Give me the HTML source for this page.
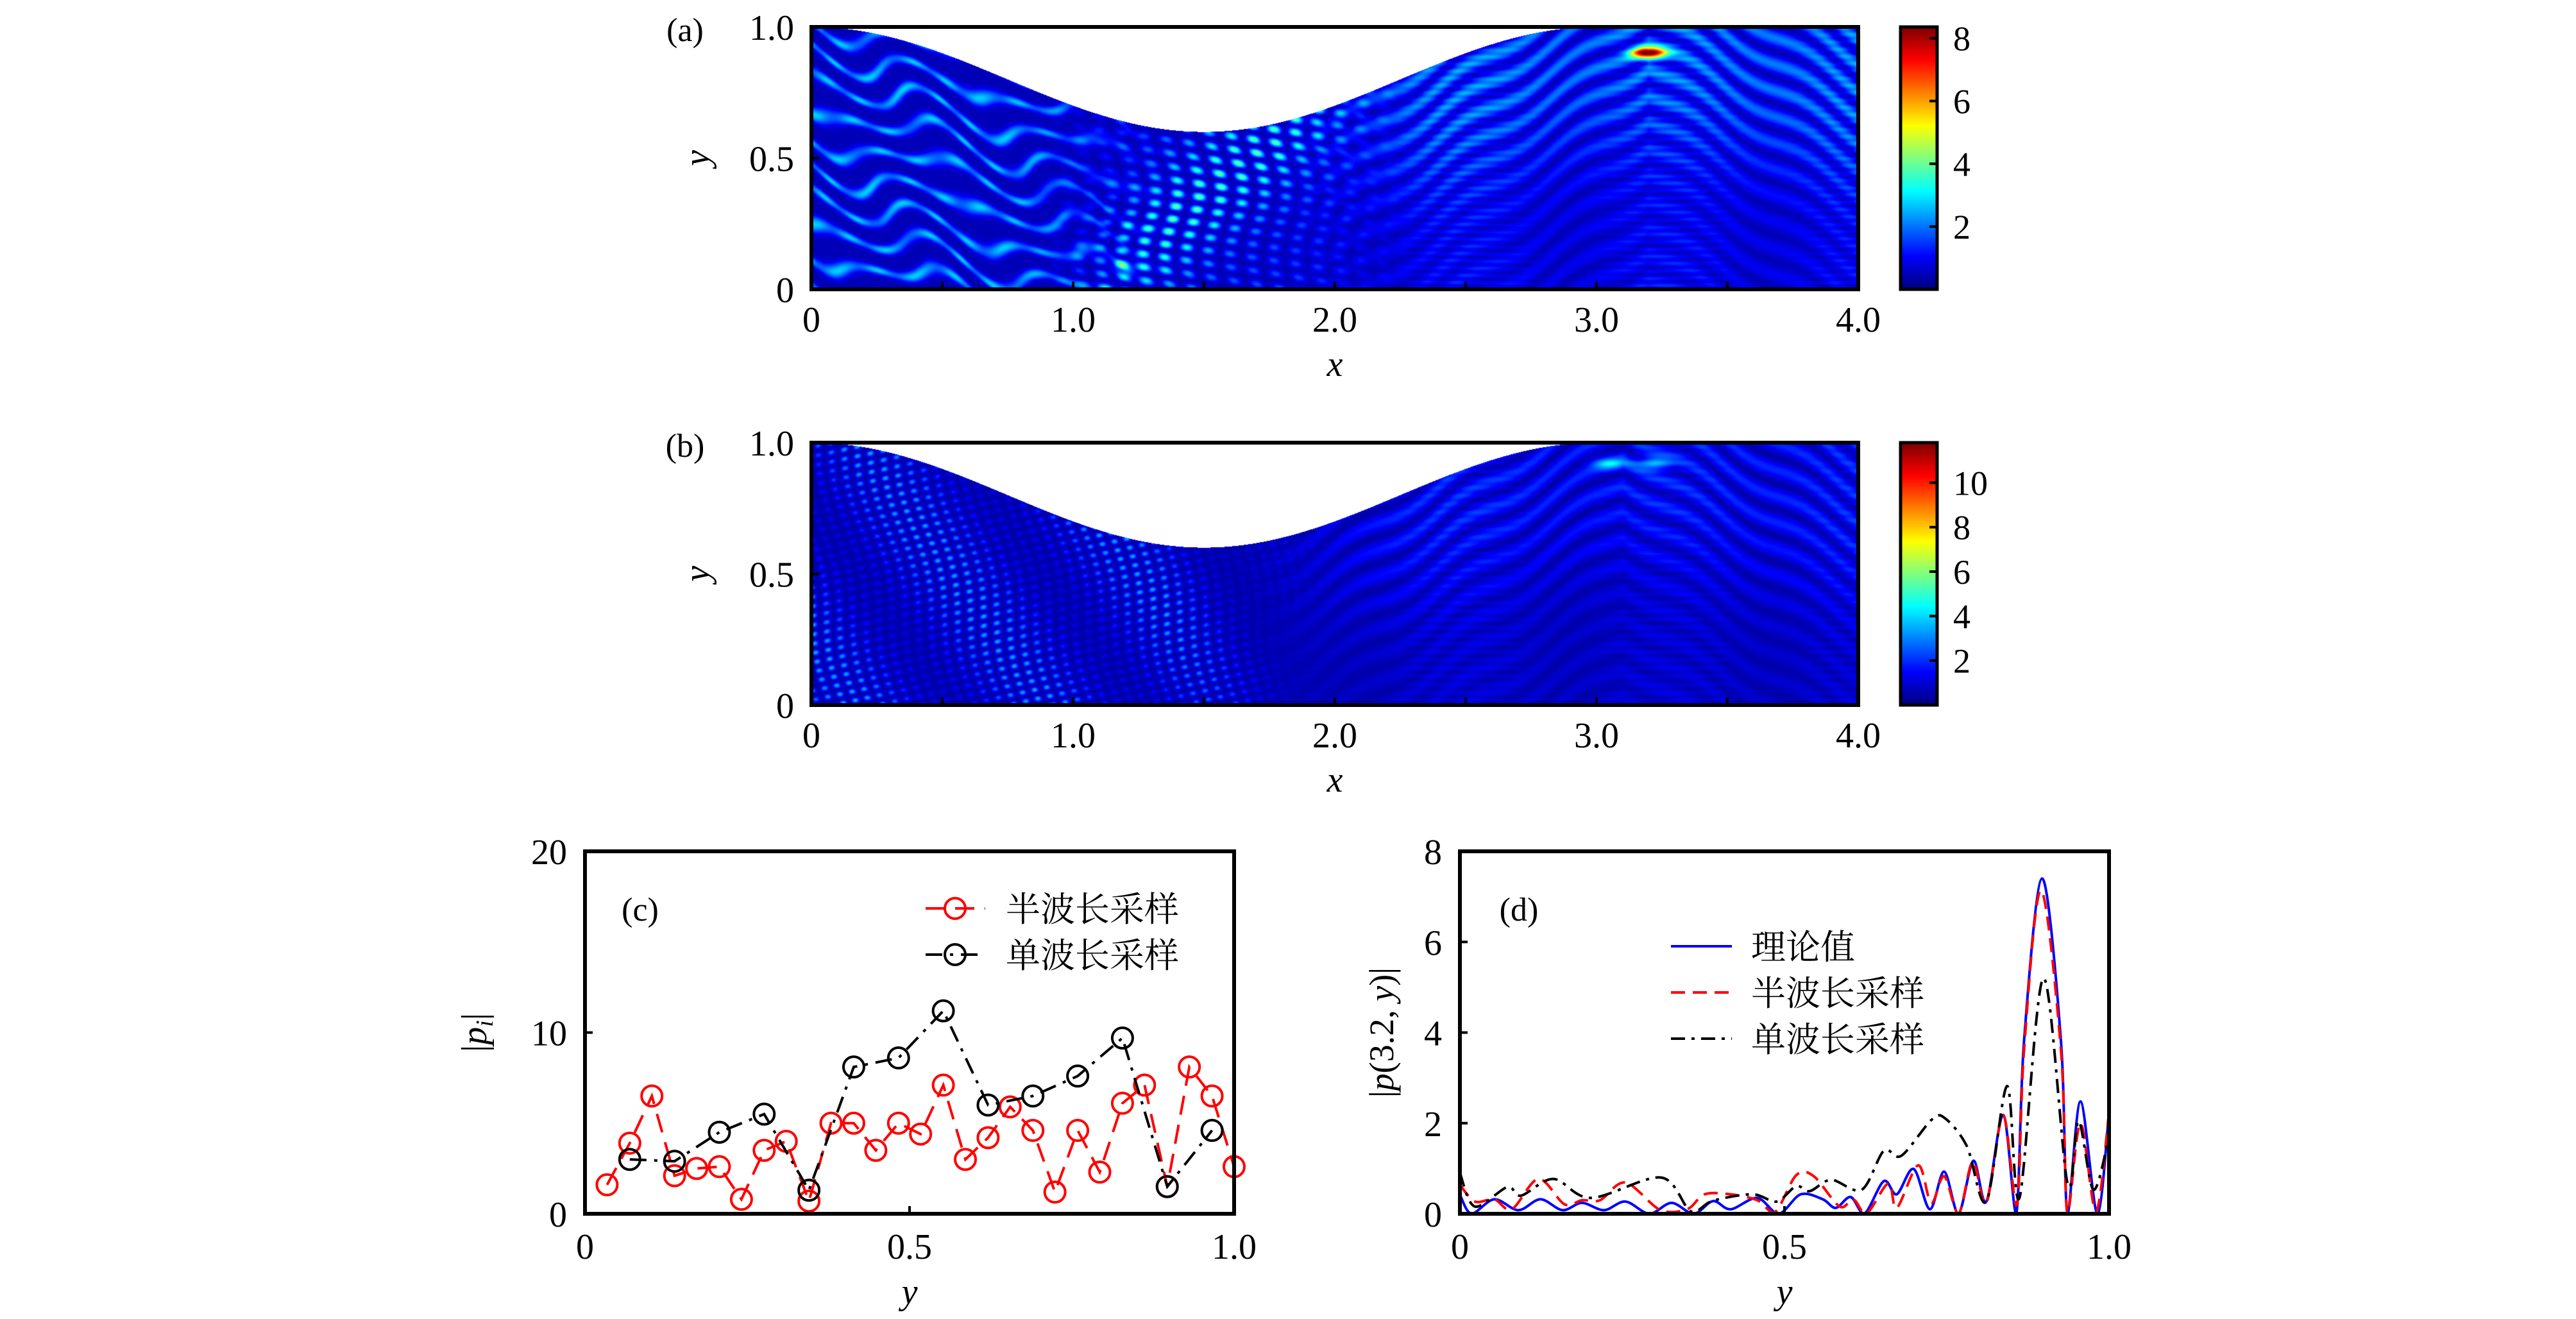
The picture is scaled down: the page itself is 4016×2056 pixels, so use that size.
<!DOCTYPE html>
<html><head><meta charset="utf-8">
<style>
html,body{margin:0;padding:0;background:#fff;}
#page{position:relative;width:4016px;height:2056px;overflow:hidden;background:#fff;font-family:"Liberation Serif","Noto Serif CJK SC",serif;}
canvas{position:absolute;}
svg{position:absolute;left:0;top:0;}
</style></head>
<body>
<div id="page">
<canvas id="hmA" width="1632" height="409" style="left:1265px;top:42px;"></canvas>
<canvas id="hmB" width="1632" height="409" style="left:1265px;top:690px;"></canvas>
<canvas id="cbA" width="57" height="409" style="left:2963px;top:42px;"></canvas>
<canvas id="cbB" width="57" height="409" style="left:2963px;top:690px;"></canvas>
<svg id="svg" width="4016" height="2056" viewBox="0 0 4016 2056" xmlns="http://www.w3.org/2000/svg"></svg>
</div>
<script>
// ---------- data ----------
const hmXTicks = [0, 1.0, 2.0, 3.0, 4.0];
const hmXTickLabels = ["0", "1.0", "2.0", "3.0", "4.0"];
const hmYTicks = [0, 0.5, 1.0];
const hmYTickLabels = ["0", "0.5", "1.0"];
const cbATicks = [2, 4, 6, 8];
const cbBTicks = [2, 4, 6, 8, 10];
const cbAMax = 8.36;
const cbBMax = 11.8;

const cRedX = [0.034,0.069,0.103,0.138,0.172,0.207,0.241,0.276,0.310,0.345,0.379,0.414,0.448,0.483,0.517,0.552,0.586,0.621,0.655,0.690,0.724,0.759,0.793,0.828,0.862,0.897,0.931,0.966,1.0];
const cRedY = [1.6,3.9,6.5,2.1,2.5,2.6,0.8,3.5,4.0,0.7,5.0,5.0,3.5,5.0,4.4,7.1,3.0,4.2,5.9,4.6,1.2,4.6,2.3,6.1,7.1,1.5,8.1,6.5,2.6];
const cBlackX = [0.069,0.138,0.207,0.276,0.345,0.414,0.483,0.552,0.621,0.690,0.759,0.828,0.897,0.966];
const cBlackY = [3.0,2.9,4.5,5.5,1.3,8.1,8.6,11.2,6.0,6.5,7.6,9.7,1.5,4.6];
const cYTicks = [0, 10, 20];
const cXTicks = [0, 0.5, 1.0];
const cXTickLabels = ["0", "0.5", "1.0"];

const dBlueX = [0,0.018,0.053,0.090,0.124,0.158,0.188,0.222,0.255,0.292,0.326,0.360,0.390,0.417,0.458,0.491,0.525,0.559,0.579,0.602,0.623,0.653,0.673,0.699,0.724,0.746,0.768,0.791,0.811,0.837,0.857,0.869,0.897,0.926,0.936,0.956,0.982,1.0];
const dBlueY = [0.42,0,0.32,0.08,0.32,0.08,0.24,0.08,0.27,0,0.24,0,0.28,0.1,0.35,0,0.43,0.32,0.13,0.37,0,0.72,0.43,0.99,0.1,0.93,0,1.17,0.27,2.18,0,3.8,7.4,3.8,0,2.48,0,2.24];
const dRedX = [0,0.023,0.053,0.080,0.121,0.161,0.188,0.216,0.255,0.309,0.350,0.377,0.417,0.458,0.485,0.518,0.545,0.585,0.606,0.626,0.660,0.673,0.706,0.726,0.746,0.768,0.790,0.811,0.837,0.858,0.869,0.895,0.926,0.936,0.956,0.980,1.0];
const dRedY = [0.64,0.27,0.32,0.1,0.77,0.21,0.3,0.3,0.69,0.08,0.1,0.43,0.43,0.3,0.03,0.85,0.83,0.16,0.32,0,0.67,0.13,1.07,0.24,0.83,0,1.15,0.24,2.18,0.2,3.6,7.14,3.6,0,2.0,0.05,2.24];
const dBlackX = [0,0.023,0.073,0.094,0.144,0.202,0.310,0.356,0.390,0.451,0.488,0.518,0.539,0.572,0.619,0.653,0.680,0.727,0.748,0.781,0.811,0.843,0.862,0.899,0.936,0.953,0.976,1.0];
const dBlackY = [0.9,0.16,0.59,0.4,0.77,0.35,0.8,0.05,0.29,0.43,0.27,0.61,0.5,0.75,0.53,1.39,1.28,2.08,2.1,1.49,0.27,2.82,0.35,5.2,0.67,2.05,0.53,1.7];
const dYTicks = [0, 2, 4, 6, 8];

// ---------- helpers ----------
const NS = "http://www.w3.org/2000/svg";
const svg = document.getElementById("svg");
function mk(tag, attrs, parent) {
  const e = document.createElementNS(NS, tag);
  for (const k in attrs) e.setAttribute(k, attrs[k]);
  (parent || svg).appendChild(e);
  return e;
}
function txt(str, x, y, size, anchor, parent, extra) {
  const t = mk("text", Object.assign({x: x, y: y, "font-size": size, "text-anchor": anchor || "middle", fill: "#000", "font-family": '"Liberation Serif","Noto Serif CJK SC",serif'}, extra || {}), parent);
  t.textContent = str;
  return t;
}
function linScale(d0, d1, r0, r1) { return v => r0 + (v - d0) / (d1 - d0) * (r1 - r0); }

function jet(t) {
  t = Math.max(0, Math.min(1, t));
  const r = Math.max(0, Math.min(1, 1.5 - Math.abs(4 * t - 3)));
  const g = Math.max(0, Math.min(1, 1.5 - Math.abs(4 * t - 2)));
  const b = Math.max(0, Math.min(1, 1.5 - Math.abs(4 * t - 1)));
  return [r * 255, g * 255, b * 255];
}
function topBound(x) { return x < 3.0 ? 0.8 + 0.2 * Math.cos(Math.PI * x / 1.5) : 1.0; }
function sm(a, b, x) { const t = Math.max(0, Math.min(1, (x - a) / (b - a))); return t * t * (3 - 2 * t); }
const TP = 2 * Math.PI;
function fieldA(x, y) {
  let v = 0.45;
  const wl = 1 - sm(0.7, 1.5, x);
  const warp = 0.04 * Math.sin(TP * x * 1.7) + 0.03 * Math.sin(TP * (x * 3.1 + y * 2));
  const s1 = Math.pow(0.5 + 0.5 * Math.sin(TP * ((y + warp) * 9 + x * 2.2)), 3);
  v += 2.3 * s1 * wl * (0.6 + 0.4 * Math.pow(Math.sin(TP * (x * 3.3 - y * 1.2)), 2));
  const wm = sm(0.8, 1.4, x) * (1 - sm(1.7, 2.4, x));
  const c = Math.pow(Math.sin(TP * (x * 6 + 0.15 * Math.sin(TP * y * 2))) * Math.sin(TP * (y * 10 + x * 1.5)), 2);
  const diag = Math.exp(-Math.pow(y - (x - 1.05) * 0.8, 2) / 0.05);
  v += (1.2 + 2.4 * diag) * c * wm;
  const wr = sm(1.7, 2.4, x);
  const d = y + 0.6 * Math.abs(x - 3.2) + 0.02 * Math.sin(TP * x * 2.3);
  const ch = Math.pow(Math.sin(TP * d * 5), 2);
  v += wr * (1.6 * ch * (0.3 + 0.7 * sm(0.3, 0.9, y + 0.2 * Math.abs(x - 3.2))) + 0.5 * Math.pow(Math.sin(TP * (y * 18 - 0.3 * Math.abs(x - 3.2))), 2) * (0.5 + 0.5 * Math.sin(TP * x * 1.3)));
  v += 7.6 * Math.exp(-(Math.pow(x - 3.2, 2) / 0.004 + Math.pow(y - 0.9, 2) / 0.0005));
  v += 1.5 * Math.exp(-(Math.pow(x - 1.2, 2) / 0.002 + Math.pow(y - 0.08, 2) / 0.0006));
  return v;
}
function fieldB(x, y) {
  let v = 0.5;
  const wl = 1 - sm(1.3, 2.0, x);
  const c = Math.pow(Math.sin(TP * (x * 10 + y * 2 + 0.2 * Math.sin(TP * y * 1.5))) * Math.sin(TP * (y * 14 - x * 3)), 2);
  v += 3.0 * c * wl * (0.6 + 0.4 * Math.sin(TP * (x * 1.4 + y)));
  const wr = sm(1.6, 2.3, x);
  const d = y + 0.6 * Math.abs(x - 3.1) + 0.02 * Math.sin(TP * x * 2.3);
  const ch = Math.pow(Math.sin(TP * d * 5), 2);
  v += wr * (1.4 * ch * (0.3 + 0.7 * sm(0.3, 0.9, y + 0.2 * Math.abs(x - 3.1))) + 0.4 * Math.pow(Math.sin(TP * y * 16), 2) * (0.5 + 0.5 * Math.sin(TP * x * 1.3)));
  v += 2.5 * Math.exp(-(Math.pow(x - 3.05, 2) / 0.004 + Math.pow(y - 0.92, 2) / 0.0005));
  v += 2.8 * Math.exp(-(Math.pow(x - 3.22, 2) / 0.004 + Math.pow(y - 0.92, 2) / 0.0005));
  return v;
}
function drawHeat(id, field, vmax) {
  const cv = document.getElementById(id);
  const W = cv.width, H = cv.height;
  const ctx = cv.getContext("2d");
  const img = ctx.createImageData(W, H);
  for (let j = 0; j < H; j++) {
    const y = 1 - (j + 0.5) / H;
    for (let i = 0; i < W; i++) {
      const x = 4 * (i + 0.5) / W;
      const k = (j * W + i) * 4;
      if (y > topBound(x)) { img.data[k] = 255; img.data[k+1] = 255; img.data[k+2] = 255; img.data[k+3] = 255; continue; }
      const col = jet(field(x, y) / vmax);
      img.data[k] = col[0]; img.data[k+1] = col[1]; img.data[k+2] = col[2]; img.data[k+3] = 255;
    }
  }
  ctx.putImageData(img, 0, 0);
}
function drawCbar(id) {
  const cv = document.getElementById(id);
  const ctx = cv.getContext("2d");
  for (let j = 0; j < cv.height; j++) {
    const c = jet(1 - j / (cv.height - 1));
    ctx.fillStyle = "rgb(" + (c[0]|0) + "," + (c[1]|0) + "," + (c[2]|0) + ")";
    ctx.fillRect(0, j, cv.width, 1);
  }
}
drawHeat("hmA", fieldA, cbAMax);
drawHeat("hmB", fieldB, cbBMax);
drawCbar("cbA");
drawCbar("cbB");

// ---------- heatmap axes ----------
function heatAxes(top, bottom, label, cbTicks, cbMax, name) {
  const g = mk("g", {});
  
  
  const L = 1265, R = 2897;
  const sx = linScale(0, 4, L, R), sy = linScale(0, 1, bottom, top);
  for (let k = 0; k < 9; k++) {
    const xv = k * 0.5;
    mk("line", {x1: sx(xv), x2: sx(xv), y1: bottom, y2: bottom - 12, stroke: "#000", "stroke-width": 4}, g);
  }
  hmXTicks.forEach((v, i) => {
    const t = txt(hmXTickLabels[i], sx(v), bottom + 66, 56, "middle", g);
    
    
  });
  hmYTicks.forEach((v, i) => {
    mk("line", {x1: L, x2: L + 12, y1: sy(v), y2: sy(v), stroke: "#000", "stroke-width": 4}, g);
    const t = txt(hmYTickLabels[i], L - 27, sy(v) + 20, 56, "end", g);
    
    
  });
  mk("rect", {x: L, y: top, width: R - L, height: bottom - top, fill: "none", stroke: "#000", "stroke-width": 6}, g);
  const xl = txt("x", (L + R) / 2, bottom + 135, 56, "middle", g, {"font-style": "italic"});
  
  
  const yl = txt("y", 0, 0, 56, "middle", g, {"font-style": "italic", transform: "translate(1105," + ((top + bottom) / 2) + ") rotate(-90)"});
  
  
  const pl = txt(label, 1068, top + 22, 52, "middle", g);
  
  
  const cx0 = 2963, cx1 = 3020;
  mk("rect", {x: cx0, y: top, width: cx1 - cx0, height: bottom - top, fill: "none", stroke: "#000", "stroke-width": 5}, g);
  const cs = linScale(0, cbMax, bottom, top);
  cbTicks.forEach(v => {
    mk("line", {x1: cx1 - 12, x2: cx1, y1: cs(v), y2: cs(v), stroke: "#000", "stroke-width": 4}, g);
    const t = txt(String(v), cx1 + 25, cs(v) + 19, 54, "start", g);
    
    
  });
}
heatAxes(42, 451, "(a)", cbATicks, cbAMax, "panel-a");
heatAxes(690, 1099, "(b)", cbBTicks, cbBMax, "panel-b");

// ---------- panel c ----------
(function () {
  const L = 912, R = 1924, T = 1327, B = 1892;
  const g = mk("g", {});
  
  
  const sx = linScale(0, 1, L, R), sy = linScale(0, 20, B, T);
  function series(xs, ys, color, dash, name) {
    const pts = xs.map((x, i) => sx(x) + "," + sy(ys[i])).join(" ");
    const pl = mk("polyline", {points: pts, fill: "none", stroke: color, "stroke-width": 4, "stroke-dasharray": dash}, g);
    
    
    xs.forEach((x, i) => {
      const c = mk("circle", {cx: sx(x), cy: sy(ys[i]), r: 16, fill: "none", stroke: color, "stroke-width": 4}, g);
      
      
    });
  }
  series(cRedX, cRedY, "#f00", "30,16", "half-wavelength");
  series(cBlackX, cBlackY, "#000", "26,12,5,12", "single-wavelength");
  mk("rect", {x: L, y: T, width: R - L, height: B - T, fill: "none", stroke: "#000", "stroke-width": 6}, g);
  cYTicks.forEach(v => {
    mk("line", {x1: L, x2: L + 12, y1: sy(v), y2: sy(v), stroke: "#000", "stroke-width": 4}, g);
    const t = txt(String(v), L - 28, sy(v) + 20, 56, "end", g);
    
    
  });
  cXTicks.forEach((v, i) => {
    mk("line", {x1: sx(v), x2: sx(v), y1: B, y2: B - 12, stroke: "#000", "stroke-width": 4}, g);
    const t = txt(cXTickLabels[i], sx(v), B + 70, 56, "middle", g);
    
    
  });
  const xl = txt("y", (L + R) / 2, B + 140, 56, "middle", g, {"font-style": "italic"});
  
  
  const yl = txt("", 0, 0, 56, "middle", g, {transform: "translate(758," + ((T + B) / 2) + ") rotate(-90)"});
  const s1 = mk("tspan", {}, yl); s1.textContent = "|";
  const s2 = mk("tspan", {"font-style": "italic"}, yl); s2.textContent = "p";
  const s3 = mk("tspan", {"font-style": "italic", "font-size": 38, dy: 10}, yl); s3.textContent = "i";
  const s4 = mk("tspan", {dy: -10}, yl); s4.textContent = "|";
  
  
  const pl = txt("(c)", 998, 1435, 52, "middle", g);
  
  
  const lg = mk("g", {}, g);
  
  
  [["半波长采样", "#f00", "30,16", 1416], ["单波长采样", "#000", "26,12,5,12", 1488]].forEach(e => {
    mk("line", {x1: 1443, x2: 1536, y1: e[3], y2: e[3], stroke: e[1], "stroke-width": 4, "stroke-dasharray": e[2]}, lg);
    mk("circle", {cx: 1489, cy: e[3], r: 16, fill: "none", stroke: e[1], "stroke-width": 4}, lg);
    const t = txt(e[0], 1568, e[3] + 20, 54, "start", lg, {"font-family": '"Noto Serif CJK SC","Noto Sans CJK SC",serif'});
    
    
  });
})();

// ---------- panel d ----------
(function () {
  const L = 2276, R = 3288, T = 1327, B = 1892;
  const g = mk("g", {});
  
  
  const sx = linScale(0, 1, L, R), sy = linScale(0, 8, B, T);
  function smoothPath(xs, ys) {
    const P = xs.map((x, i) => [sx(x), sy(ys[i])]);
    let d = "M" + P[0][0] + "," + P[0][1];
    for (let i = 0; i < P.length - 1; i++) {
      const p0 = P[Math.max(0, i - 1)], p1 = P[i], p2 = P[i + 1], p3 = P[Math.min(P.length - 1, i + 2)];
      const k = 0.16;
      const c1 = [p1[0] + (p2[0] - p0[0]) * k, p1[1] + (p2[1] - p0[1]) * k];
      const c2 = [p2[0] - (p3[0] - p1[0]) * k, p2[1] - (p3[1] - p1[1]) * k];
      d += " C" + c1[0] + "," + Math.min(B, c1[1]) + " " + c2[0] + "," + Math.min(B, c2[1]) + " " + p2[0] + "," + p2[1];
    }
    return d;
  }
  const cp = mk("clipPath", {id: "clipD"}, g);
  mk("rect", {x: L, y: T, width: R - L, height: B - T}, cp);
  const lines = mk("g", {"clip-path": "url(#clipD)"}, g);
  const b = mk("path", {d: smoothPath(dBlueX, dBlueY), fill: "none", stroke: "#00f", "stroke-width": 4}, lines);
  
  
  const r = mk("path", {d: smoothPath(dRedX, dRedY), fill: "none", stroke: "#f00", "stroke-width": 4, "stroke-dasharray": "22,12"}, lines);
  
  
  const k = mk("path", {d: smoothPath(dBlackX, dBlackY), fill: "none", stroke: "#000", "stroke-width": 4, "stroke-dasharray": "22,10,5,10"}, lines);
  
  
  mk("rect", {x: L, y: T, width: R - L, height: B - T, fill: "none", stroke: "#000", "stroke-width": 6}, g);
  dYTicks.forEach(v => {
    mk("line", {x1: L, x2: L + 12, y1: sy(v), y2: sy(v), stroke: "#000", "stroke-width": 4}, g);
    const t = txt(String(v), L - 28, sy(v) + 20, 56, "end", g);
    
    
  });
  cXTicks.forEach((v, i) => {
    mk("line", {x1: sx(v), x2: sx(v), y1: B, y2: B - 12, stroke: "#000", "stroke-width": 4}, g);
    const t = txt(cXTickLabels[i], sx(v), B + 70, 56, "middle", g);
    
    
  });
  const xl = txt("y", (L + R) / 2, B + 140, 56, "middle", g, {"font-style": "italic"});
  
  
  const yl = txt("", 0, 0, 54, "middle", g, {transform: "translate(2172," + ((T + B) / 2) + ") rotate(-90)"});
  const a1 = mk("tspan", {}, yl); a1.textContent = "|";
  const a2 = mk("tspan", {"font-style": "italic"}, yl); a2.textContent = "p";
  const a3 = mk("tspan", {}, yl); a3.textContent = "(3.2, ";
  const a4 = mk("tspan", {"font-style": "italic"}, yl); a4.textContent = "y";
  const a5 = mk("tspan", {}, yl); a5.textContent = ")|";
  
  
  const pl = txt("(d)", 2368, 1435, 52, "middle", g);
  
  
  const lg = mk("g", {}, g);
  
  
  [["理论值", "#00f", "none", 1475], ["半波长采样", "#f00", "22,12", 1547], ["单波长采样", "#000", "22,10,5,10", 1619]].forEach(e => {
    mk("line", {x1: 2605, x2: 2700, y1: e[3], y2: e[3], stroke: e[1], "stroke-width": 4, "stroke-dasharray": e[2]}, lg);
    const t = txt(e[0], 2730, e[3] + 20, 54, "start", lg, {"font-family": '"Noto Serif CJK SC","Noto Sans CJK SC",serif'});
    
    
  });
})();
</script>
</body></html>
